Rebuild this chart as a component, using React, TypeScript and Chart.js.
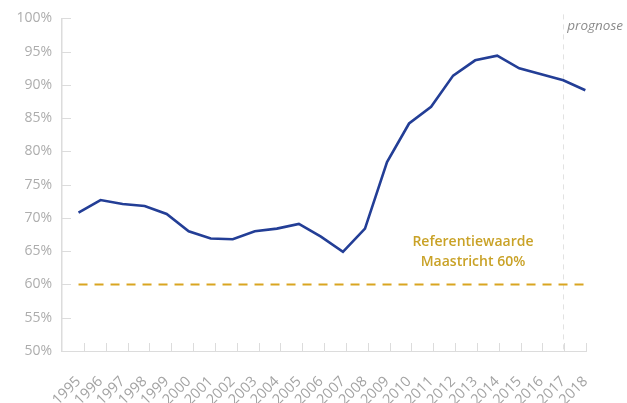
import React, { useEffect, useRef } from "react";
import { Chart, registerables } from "chart.js";

Chart.register(...registerables);

const years = [1995, 1996, 1997, 1998, 1999, 2000, 2001, 2002, 2003, 2004, 2005, 2006, 2007, 2008, 2009, 2010, 2011, 2012, 2013, 2014, 2015, 2016, 2017, 2018];
const debtRatio = [70.8, 72.7, 72.1, 71.8, 70.6, 68.0, 66.9, 66.8, 68.0, 68.4, 69.1, 67.2, 64.9, 68.4, 78.4, 84.2, 86.7, 91.4, 93.7, 94.4, 92.5, 91.6, 90.7, 89.2];
const maastricht = years.map(() => 60);
const yTicks = [50, 55, 60, 65, 70, 75, 80, 85, 90, 95, 100];
const forecastStart = 2017;
const refLabel = ["Referentiewaarde", "Maastricht 60%"];
const forecastLabel = "prognose";

const FONT = "'Open Sans', 'Noto Sans', sans-serif";

const decorations = {
  id: "decorations",
  beforeDatasetsDraw(chart: any) {
    const { ctx, chartArea, scales } = chart;
    const x = scales.x;
    const px = Math.round(x.getPixelForValue(forecastStart)) + 0.5;
    ctx.save();
    ctx.strokeStyle = "#e2e2e2";
    ctx.lineWidth = 1;
    ctx.setLineDash([5, 5]);
    ctx.beginPath();
    ctx.moveTo(px, chartArea.top - 4);
    ctx.lineTo(px, chartArea.bottom);
    ctx.stroke();
    ctx.restore();
  },
  afterDraw(chart: any) {
    const { ctx, chartArea, scales } = chart;
    const x = scales.x;
    const y = scales.y;
    ctx.save();
    ctx.strokeStyle = "#dcdcdc";
    ctx.lineWidth = 1;
    ctx.beginPath();
    yTicks.forEach((v) => {
      const py = Math.round(y.getPixelForValue(v)) + 0.5;
      ctx.moveTo(chartArea.left, py);
      ctx.lineTo(chartArea.left + 9, py);
    });
    const n = years.length;
    for (let k = 1; k <= n; k++) {
      const pxx = Math.round(chartArea.left + ((chartArea.right - chartArea.left) * k) / n) + 0.5;
      ctx.moveTo(pxx, chartArea.bottom);
      ctx.lineTo(pxx, chartArea.bottom - 8);
    }
    ctx.stroke();

    // forecast label
    const fx = x.getPixelForValue(forecastStart);
    ctx.fillStyle = "#8c8c8c";
    ctx.font = `italic 13.5px ${FONT}`;
    ctx.textAlign = "left";
    ctx.textBaseline = "middle";
    ctx.fillText(forecastLabel, fx + 4, chartArea.top + 8);

    // reference label
    ctx.fillStyle = "#C9A227";
    ctx.font = `600 14px ${FONT}`;
    ctx.textAlign = "center";
    const cx = x.getPixelForValue(2012.9);
    ctx.fillText(refLabel[0], cx, y.getPixelForValue(66.4));
    ctx.fillText(refLabel[1], cx, y.getPixelForValue(63.4));
    ctx.restore();
  },
};

export default function App() {
  const ref = useRef<HTMLCanvasElement>(null);
  useEffect(() => {
    document.body.style.margin = "0";
    const chart = new Chart(ref.current as HTMLCanvasElement, {
      type: "line",
      data: {
        labels: years,
        datasets: [
          {
            label: "Schuldquote",
            data: years.map((yr, i) => ({ x: yr, y: debtRatio[i] })),
            borderColor: "#233E96",
            borderWidth: 2.6,
            pointRadius: 0,
            tension: 0,
            fill: false,
          },
          {
            label: "Maastricht",
            data: years.map((yr, i) => ({ x: yr, y: maastricht[i] })),
            borderColor: "#D9A521",
            borderWidth: 2.2,
            borderDash: [9, 7],
            pointRadius: 0,
            fill: false,
          },
        ],
      },
      options: {
        animation: false,
        responsive: true,
        maintainAspectRatio: false,
        layout: { padding: { top: 18, right: 41, left: 0, bottom: 0 } },
        plugins: { legend: { display: false }, tooltip: { enabled: false } },
        scales: {
          x: {
            type: "linear",
            min: 1994.25,
            max: 2018.03,
            afterBuildTicks: (s: any) => {
              s.ticks = years.map((v) => ({ value: v }));
            },
            afterFit: (s: any) => {
              s.height = 52;
            },
            grid: { display: false, drawTicks: false },
            border: { color: "#dcdcdc", width: 1 },
            ticks: {
              autoSkip: false,
              minRotation: 45,
              maxRotation: 45,
              padding: 22,
              color: "#a3a3a3",
              font: { family: FONT, size: 14.5 },
              callback: (v: any) => String(v),
            },
          },
          y: {
            min: 50,
            max: 100,
            afterBuildTicks: (s: any) => {
              s.ticks = yTicks.map((v) => ({ value: v }));
            },
            afterFit: (s: any) => {
              s.width = 62;
            },
            grid: { display: false, drawTicks: false },
            border: { color: "#dcdcdc", width: 1.5 },
            ticks: {
              padding: 10,
              color: "#adadad",
              font: { family: FONT, size: 14 },
              callback: (v: any) => `${v}%`,
            },
          },
        },
      },
      plugins: [decorations],
    });
    return () => chart.destroy();
  }, []);
  return (
    <div style={{ position: "relative", width: 627, height: 403 }}>
      <canvas ref={ref} />
    </div>
  );
}
